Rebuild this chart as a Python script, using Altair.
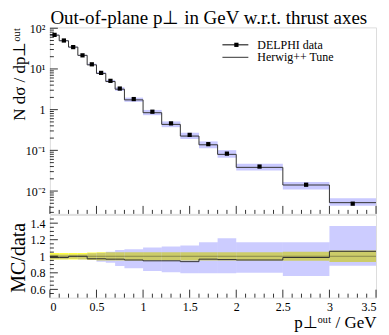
import altair as alt
import pandas as pd

# ---- data ----
bin_lo = [0.0, 0.1, 0.2, 0.3, 0.4, 0.5, 0.6, 0.7, 0.8, 1.0, 1.2, 1.4, 1.6, 1.8, 2.0, 2.5, 3.0]
bin_hi = [0.1, 0.2, 0.3, 0.4, 0.5, 0.6, 0.7, 0.8, 1.0, 1.2, 1.4, 1.6, 1.8, 2.0, 2.5, 3.0, 3.5]
data_val = [68.7, 50.0, 34.4, 21.6, 13.0, 8.0, 5.1, 3.3, 1.82, 0.89, 0.46, 0.24,
            0.142, 0.083, 0.040, 0.0143, 0.0049]
data_err_rel = [0.04, 0.04, 0.04, 0.04, 0.045, 0.05, 0.05, 0.05, 0.05, 0.05, 0.05,
                0.05, 0.05, 0.05, 0.05, 0.055, 0.07]
mc_ratio = [0.985, 0.985, 1.0, 1.0, 0.97, 0.97, 0.965, 0.965, 0.955, 0.945, 0.945,
            0.935, 0.965, 0.96, 0.955, 0.985, 1.06]
mc_band_lo = [0.965, 0.965, 0.97, 0.96, 0.955, 0.935, 0.922, 0.882, 0.855, 0.822, 0.806,
              0.794, 0.794, 0.794, 0.80, 0.761, 0.886]
mc_band_hi = [1.02, 1.02, 1.02, 1.025, 1.036, 1.044, 1.056, 1.076, 1.085, 1.105, 1.117,
              1.129, 1.17, 1.218, 1.17, 1.17, 1.367]

x_major = [0.0, 0.5, 1.0, 1.5, 2.0, 2.5, 3.0, 3.5]
x_minor = [0.1, 0.2, 0.3, 0.4, 0.6, 0.7, 0.8, 0.9, 1.1, 1.2, 1.3, 1.4, 1.6, 1.7, 1.8, 1.9,
           2.1, 2.2, 2.3, 2.4, 2.6, 2.7, 2.8, 2.9, 3.1, 3.2, 3.3, 3.4]
y_major = [0.01, 0.1, 1.0, 10.0, 100.0]
y_minor = [0.003, 0.004, 0.005, 0.006, 0.007, 0.008, 0.009,
           0.02, 0.03, 0.04, 0.05, 0.06, 0.07, 0.08, 0.09,
           0.2, 0.3, 0.4, 0.5, 0.6, 0.7, 0.8, 0.9,
           2, 3, 4, 5, 6, 7, 8, 9,
           20, 30, 40, 50, 60, 70, 80, 90]
r_major = [0.6, 0.8, 1.0, 1.2, 1.4]
r_minor = [0.55, 0.65, 0.7, 0.75, 0.85, 0.9, 0.95, 1.05, 1.1, 1.15, 1.25, 1.3, 1.35, 1.45]

legend_labels = ["DELPHI data", "Herwig++ Tune"]

FONT = "Liberation Serif"
W, H1, H2 = 327, 187, 83
MAJ, MIN = 8, 4

df = pd.DataFrame({
    "lo": bin_lo, "hi": bin_hi,
    "mid": [(a + b) / 2 for a, b in zip(bin_lo, bin_hi)],
    "data": data_val,
    "err": data_err_rel,
    "ratio": mc_ratio,
    "rlo": mc_band_lo, "rhi": mc_band_hi,
})
df["mc"] = df["data"] * df["ratio"]
df["blo"] = df["data"] * df["rlo"]
df["bhi"] = df["data"] * df["rhi"]
df["dlo"] = df["data"] * (1 - 0.5 * df["err"])
df["dhi"] = df["data"] * (1 + 0.5 * df["err"])
df["ylo"] = 1 - df["err"]
df["yhi"] = 1 + df["err"]
df["one"] = 1.0

step = pd.DataFrame({"x": bin_lo + [bin_hi[-1]],
                     "mc": list(df["mc"]) + [df["mc"].iloc[-1]],
                     "r": mc_ratio + [mc_ratio[-1]]})

xs = alt.Scale(domain=[0, 3.5], nice=False, zero=False)
ys = alt.Scale(type="log", domain=[0.00275, 105], nice=False)
rs = alt.Scale(domain=[0.5, 1.5], nice=False, zero=False)

ylab = ("datum.value >= 99 ? '10²' : datum.value >= 9 ? '10¹' : datum.value >= 0.9 ? '1' : "
        "datum.value >= 0.09 ? '10⁻¹' : '10⁻²'")
y_axis = alt.Axis(values=y_major, labelExpr=ylab, ticks=False, domain=False, grid=False,
                  labelFont=FONT, labelFontSize=12, labelPadding=5,
                  title="N dσ / dp⊥ᵒᵘᵗ", titleFont=FONT, titleFontSize=17,
                  titleFontWeight="normal", titleAngle=270, titleAlign="right",
                  titleBaseline="alphabetic", titleX=-25, titleY=0)
r_axis = alt.Axis(values=r_major, format=".1~f", ticks=False, domain=False, grid=False,
                  labelFont=FONT, labelFontSize=12, labelPadding=5,
                  title="MC/data", titleFont=FONT, titleFontSize=20,
                  titleFontWeight="normal", titleAngle=270, titleAlign="center",
                  titleBaseline="alphabetic", titleX=-25, titleY=H2 / 2 + 1)
x_axis = alt.Axis(values=x_major, format=".1~f", ticks=False, domain=False, grid=False,
                  labelFont=FONT, labelFontSize=12, labelPadding=4,
                  title="p⊥ᵒᵘᵗ / GeV", titleFont=FONT, titleFontSize=17,
                  titleFontWeight="normal", titleAnchor="end", titlePadding=2)


def XM(f):
    return alt.X(f, type="quantitative", scale=xs, axis=None)


def XR(f):
    return alt.X(f, type="quantitative", scale=xs, axis=x_axis)


def YM(f):
    return alt.Y(f, type="quantitative", scale=ys, axis=y_axis)


def YR(f):
    return alt.Y(f, type="quantitative", scale=rs, axis=r_axis)


BLUE = "#c9c9ff"

# ---- main panel ----
band = alt.Chart(df).mark_rect(fill=BLUE, strokeWidth=0).encode(
    x=XM("lo"), x2="hi", y=YM("blo"), y2="bhi")
mcline = alt.Chart(step).mark_line(interpolate="step-after", color="#333333",
                                   strokeWidth=1).encode(x=XM("x"), y=YM("mc"))
errbar = alt.Chart(df).mark_rule(color="black", strokeWidth=1).encode(
    x=XM("mid"), y=YM("dlo"), y2="dhi")
pts = alt.Chart(df).mark_square(color="black", size=18, opacity=1).encode(
    x=XM("mid"), y=YM("data"))

tx_maj = alt.Chart(pd.DataFrame({"v": x_major})).mark_rule(color="black", strokeWidth=0.8).encode(
    x=XM("v"), y=alt.value(H1), y2=alt.value(H1 - MAJ))
tx_min = alt.Chart(pd.DataFrame({"v": x_minor})).mark_rule(color="black", strokeWidth=0.8).encode(
    x=XM("v"), y=alt.value(H1), y2=alt.value(H1 - MIN))
ty_maj = alt.Chart(pd.DataFrame({"v": y_major})).mark_rule(color="black", strokeWidth=0.8).encode(
    y=YM("v"), x=alt.value(0), x2=alt.value(MAJ))
ty_min = alt.Chart(pd.DataFrame({"v": y_minor})).mark_rule(color="black", strokeWidth=0.8).encode(
    y=YM("v"), x=alt.value(0), x2=alt.value(MIN))

L1, L2 = 17.5, 30
leg_df1 = pd.DataFrame({"t": [legend_labels[0]]})
leg_df2 = pd.DataFrame({"t": [legend_labels[1]]})
leg_line1 = alt.Chart(leg_df1).mark_rule(color="black", strokeWidth=1).encode(
    x=alt.value(173), x2=alt.value(199), y=alt.value(L1))
leg_sq1 = alt.Chart(leg_df1).mark_square(color="black", size=18, opacity=1).encode(
    x=alt.value(187), y=alt.value(L1))
leg_txt1 = alt.Chart(leg_df1).mark_text(align="left", baseline="middle", font=FONT,
                                        fontSize=12).encode(
    x=alt.value(208), y=alt.value(L1), text="t:N")
leg_line2 = alt.Chart(leg_df2).mark_rule(color="#333333", strokeWidth=1).encode(
    x=alt.value(173), x2=alt.value(199), y=alt.value(L2))
leg_txt2 = alt.Chart(leg_df2).mark_text(align="left", baseline="middle", font=FONT,
                                        fontSize=12).encode(
    x=alt.value(208), y=alt.value(L2), text="t:N")

main = alt.layer(band, mcline, errbar, pts, tx_maj, tx_min, ty_maj, ty_min,
                 leg_line1, leg_sq1, leg_txt1, leg_line2, leg_txt2).properties(
    width=W, height=H1)

# ---- ratio panel ----
yband = alt.Chart(df).mark_rect(fill="#ffff44", strokeWidth=0, clip=True).encode(
    x=XR("lo"), x2="hi", y=YR("ylo"), y2="yhi")
bband = alt.Chart(df).mark_rect(fill="#0000ff", fillOpacity=0.2, strokeWidth=0,
                                clip=True).encode(
    x=XR("lo"), x2="hi", y=YR("rlo"), y2="rhi")
oneline = alt.Chart(df).mark_rule(color="#777744", strokeWidth=0.8).encode(
    x=XR("lo"), x2="hi", y=YR("one"))
rline = alt.Chart(step).mark_line(interpolate="step-after", color="#333333",
                                  strokeWidth=1, clip=True).encode(x=XR("x"), y=YR("r"))
rx_maj = alt.Chart(pd.DataFrame({"v": x_major})).mark_rule(color="black", strokeWidth=0.8).encode(
    x=XR("v"), y=alt.value(H2), y2=alt.value(H2 - MAJ))
rx_min = alt.Chart(pd.DataFrame({"v": x_minor})).mark_rule(color="black", strokeWidth=0.8).encode(
    x=XR("v"), y=alt.value(H2), y2=alt.value(H2 - MIN))
ry_maj = alt.Chart(pd.DataFrame({"v": r_major})).mark_rule(color="black", strokeWidth=0.8).encode(
    y=YR("v"), x=alt.value(0), x2=alt.value(MAJ))
ry_min = alt.Chart(pd.DataFrame({"v": r_minor})).mark_rule(color="black", strokeWidth=0.8).encode(
    y=YR("v"), x=alt.value(0), x2=alt.value(MIN))

ratio = alt.layer(yband, bband, oneline, rline, rx_maj, rx_min, ry_maj, ry_min).properties(
    width=W, height=H2)

chart = alt.vconcat(main, ratio, spacing=1, bounds="flush").properties(
    title=alt.Title("Out-of-plane p⊥ in GeV w.r.t. thrust axes", anchor="start",
                    frame="bounds", font=FONT, fontSize=19, fontWeight="normal",
                    offset=-6, dx=42, color="black"),
    padding={"left": 0, "top": 0, "right": 2, "bottom": 0}
).configure_view(stroke="black", strokeWidth=1).configure(background="white")

chart.save("out.html", embed_options={"renderer": "svg", "actions": False})
